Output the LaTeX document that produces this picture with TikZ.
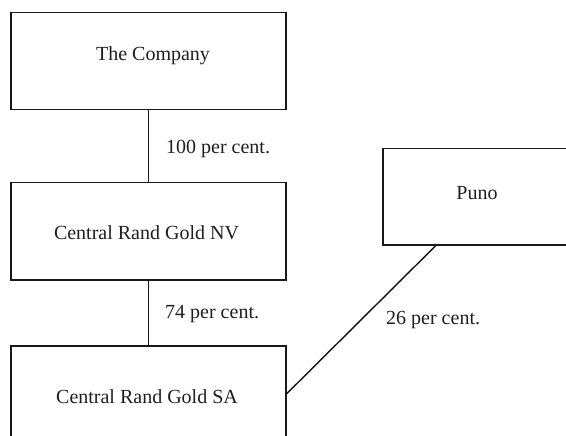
\documentclass[tikz,border=0pt]{standalone}
\usepackage{fontspec}
\setmainfont{Liberation Serif}
\usetikzlibrary{calc}
\begin{document}
\begin{tikzpicture}[x=1pt,y=-1pt,
  box/.style={draw=black!90, line width=1.5pt, rectangle, inner sep=0pt, anchor=north west},
  txt/.style={font=\fontsize{20}{24}\selectfont, text=black!88, inner sep=0pt},
  link/.style={draw=black!92, line width=1.4pt}]
\useasboundingbox (0,0) rectangle (566,436);
\clip (0,0) rectangle (566,436);
\fill[white] (0,0) rectangle (566,436);
% boxes
\node[box, minimum width=275pt, minimum height=97pt] (company) at (10,12) {};
\node[box, minimum width=275pt, minimum height=97pt] (nv) at (10,182) {};
\node[box, minimum width=275pt, minimum height=100pt] (sa) at (10,345) {};
\node[box, minimum width=193pt, minimum height=96pt] (puno) at (382,148) {};
% box texts
\node[txt, anchor=base] (tcompany) at (153,60.7) {The Company};
\node[txt, anchor=base] (tnv) at (146.5,240) {Central Rand Gold NV};
\node[txt, anchor=base] (tsa) at (147,403.3) {Central Rand Gold SA};
\node[txt, anchor=base] (tpuno) at (477,200) {Puno};
% connectors
\coordinate (punoend) at ($(puno.south west)!0.277!(puno.south east)$);
\coordinate (saend) at ($(sa.north east)!0.482!(sa.south east)$);
\draw[link] (company.south) -- (nv.north);
\draw[link] (nv.south) -- (sa.north);
\draw[link] (punoend) -- (saend);
% labels
\node[txt, anchor=base west] (l100) at (166,153.3) {100 per cent.};
\node[txt, anchor=base west] (l74) at (165,318.3) {74 per cent.};
\node[txt, anchor=base west] (l26) at (386,324.5) {26 per cent.};
\end{tikzpicture}
\end{document}
